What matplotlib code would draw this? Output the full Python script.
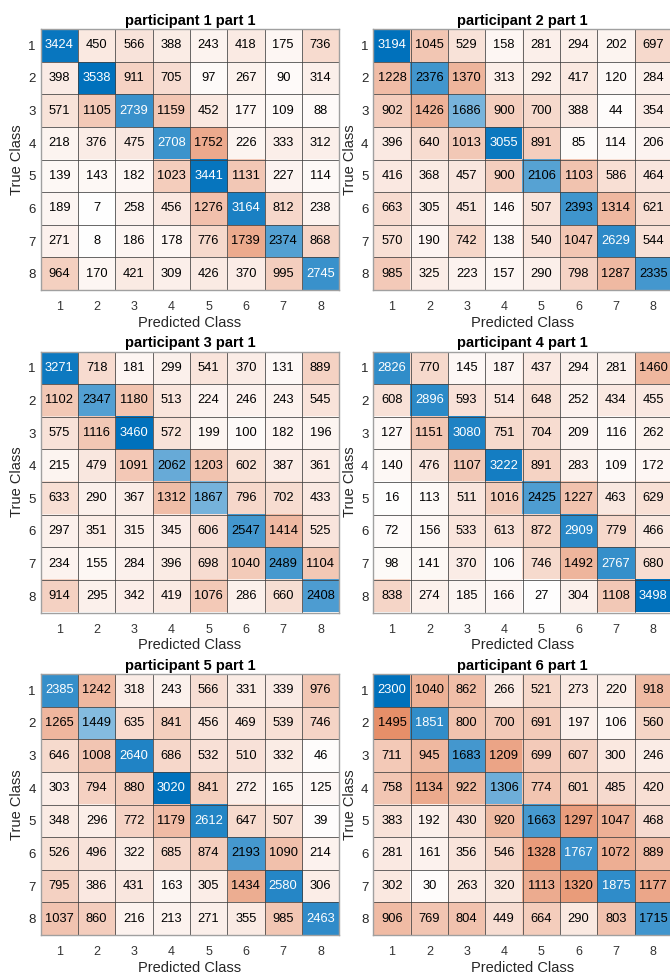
import numpy as np
import matplotlib
matplotlib.use("Agg")
import matplotlib.pyplot as plt

plt.rcParams['font.family'] = ['Liberation Sans', 'DejaVu Sans']

# 每个参与者的混淆矩阵 (行: 真实类别, 列: 预测类别)
p1 = [[3424, 450, 566, 388, 243, 418, 175, 736],
      [398, 3538, 911, 705, 97, 267, 90, 314],
      [571, 1105, 2739, 1159, 452, 177, 109, 88],
      [218, 376, 475, 2708, 1752, 226, 333, 312],
      [139, 143, 182, 1023, 3441, 1131, 227, 114],
      [189, 7, 258, 456, 1276, 3164, 812, 238],
      [271, 8, 186, 178, 776, 1739, 2374, 868],
      [964, 170, 421, 309, 426, 370, 995, 2745]]

p2 = [[3194, 1045, 529, 158, 281, 294, 202, 697],
      [1228, 2376, 1370, 313, 292, 417, 120, 284],
      [902, 1426, 1686, 900, 700, 388, 44, 354],
      [396, 640, 1013, 3055, 891, 85, 114, 206],
      [416, 368, 457, 900, 2106, 1103, 586, 464],
      [663, 305, 451, 146, 507, 2393, 1314, 621],
      [570, 190, 742, 138, 540, 1047, 2629, 544],
      [985, 325, 223, 157, 290, 798, 1287, 2335]]

p3 = [[3271, 718, 181, 299, 541, 370, 131, 889],
      [1102, 2347, 1180, 513, 224, 246, 243, 545],
      [575, 1116, 3460, 572, 199, 100, 182, 196],
      [215, 479, 1091, 2062, 1203, 602, 387, 361],
      [633, 290, 367, 1312, 1867, 796, 702, 433],
      [297, 351, 315, 345, 606, 2547, 1414, 525],
      [234, 155, 284, 396, 698, 1040, 2489, 1104],
      [914, 295, 342, 419, 1076, 286, 660, 2408]]

p4 = [[2826, 770, 145, 187, 437, 294, 281, 1460],
      [608, 2896, 593, 514, 648, 252, 434, 455],
      [127, 1151, 3080, 751, 704, 209, 116, 262],
      [140, 476, 1107, 3222, 891, 283, 109, 172],
      [16, 113, 511, 1016, 2425, 1227, 463, 629],
      [72, 156, 533, 613, 872, 2909, 779, 466],
      [98, 141, 370, 106, 746, 1492, 2767, 680],
      [838, 274, 185, 166, 27, 304, 1108, 3498]]

p5 = [[2385, 1242, 318, 243, 566, 331, 339, 976],
      [1265, 1449, 635, 841, 456, 469, 539, 746],
      [646, 1008, 2640, 686, 532, 510, 332, 46],
      [303, 794, 880, 3020, 841, 272, 165, 125],
      [348, 296, 772, 1179, 2612, 647, 507, 39],
      [526, 496, 322, 685, 874, 2193, 1090, 214],
      [795, 386, 431, 163, 305, 1434, 2580, 306],
      [1037, 860, 216, 213, 271, 355, 985, 2463]]

p6 = [[2300, 1040, 862, 266, 521, 273, 220, 918],
      [1495, 1851, 800, 700, 691, 197, 106, 560],
      [711, 945, 1683, 1209, 699, 607, 300, 246],
      [758, 1134, 922, 1306, 774, 601, 485, 420],
      [383, 192, 430, 920, 1663, 1297, 1047, 468],
      [281, 161, 356, 546, 1328, 1767, 1072, 889],
      [302, 30, 263, 320, 1113, 1320, 1875, 1177],
      [906, 769, 804, 449, 664, 290, 803, 1715]]

matrices = [p1, p2, p3, p4, p5, p6]
titles = ["participant %d part 1" % (i + 1) for i in range(6)]
class_labels = [str(i) for i in range(1, 9)]

BLUE = np.array([0.0, 0.447, 0.741])
ORANGE = np.array([0.851, 0.325, 0.098])

W, H = 670, 976
fig = plt.figure(figsize=(W / 100, H / 100), dpi=100)

lefts = [40.7, 373.4]
tops = [29, 351.5, 674]
aw, ah = 298.4, 261


def cell_colors(cm):
    cm = np.asarray(cm, dtype=float)
    t = cm / cm.max()
    rgb = np.ones(cm.shape + (3,))
    n = cm.shape[0]
    for i in range(n):
        for j in range(n):
            base = BLUE if i == j else ORANGE
            rgb[i, j] = 1 - t[i, j] * (1 - base)
    return rgb, t


for k, cm in enumerate(matrices):
    row, col = divmod(k, 2)
    ax = fig.add_axes([lefts[col] / W, 1 - (tops[row] + ah) / H, aw / W, ah / H])
    rgb, t = cell_colors(cm)
    n = len(cm)
    ax.imshow(rgb, aspect='auto', interpolation='nearest',
              extent=(0.5, n + 0.5, n + 0.5, 0.5))
    for i in range(n):
        for j in range(n):
            c = 'white' if (i == j and t[i, j] > 0.755) else 'black'
            ax.text(j + 1, i + 1, str(cm[i][j]), ha='center', va='center',
                    fontsize=9.3, color=c)
    # 网格线
    for g in np.arange(1.5, n, 1.0):
        ax.axvline(g, color='#404040', lw=0.7, alpha=0.8)
        ax.axhline(g, color='#404040', lw=0.7, alpha=0.8)
    ax.set_xlim(0.5, n + 0.5)
    ax.set_ylim(n + 0.5, 0.5)
    ax.set_xticks(range(1, n + 1), class_labels)
    ax.set_yticks(range(1, n + 1), class_labels)
    ax.tick_params(axis='x', length=0, labelsize=9, colors='#333333', pad=8)
    ax.tick_params(axis='y', length=0, labelsize=9.5, colors='#262626', pad=3.5)
    for s in ax.spines.values():
        s.set_color('#a0a0a0')
        s.set_linewidth(1.0)
    ax.set_title(titles[k], fontsize=10.5, fontweight='bold', pad=3)
    ax.set_xlabel("Predicted Class", fontsize=10.5, color='#262626', labelpad=2)
    ax.set_ylabel("True Class", fontsize=10.5, color='#262626', labelpad=3)

fig.savefig("out.png", dpi=100)
